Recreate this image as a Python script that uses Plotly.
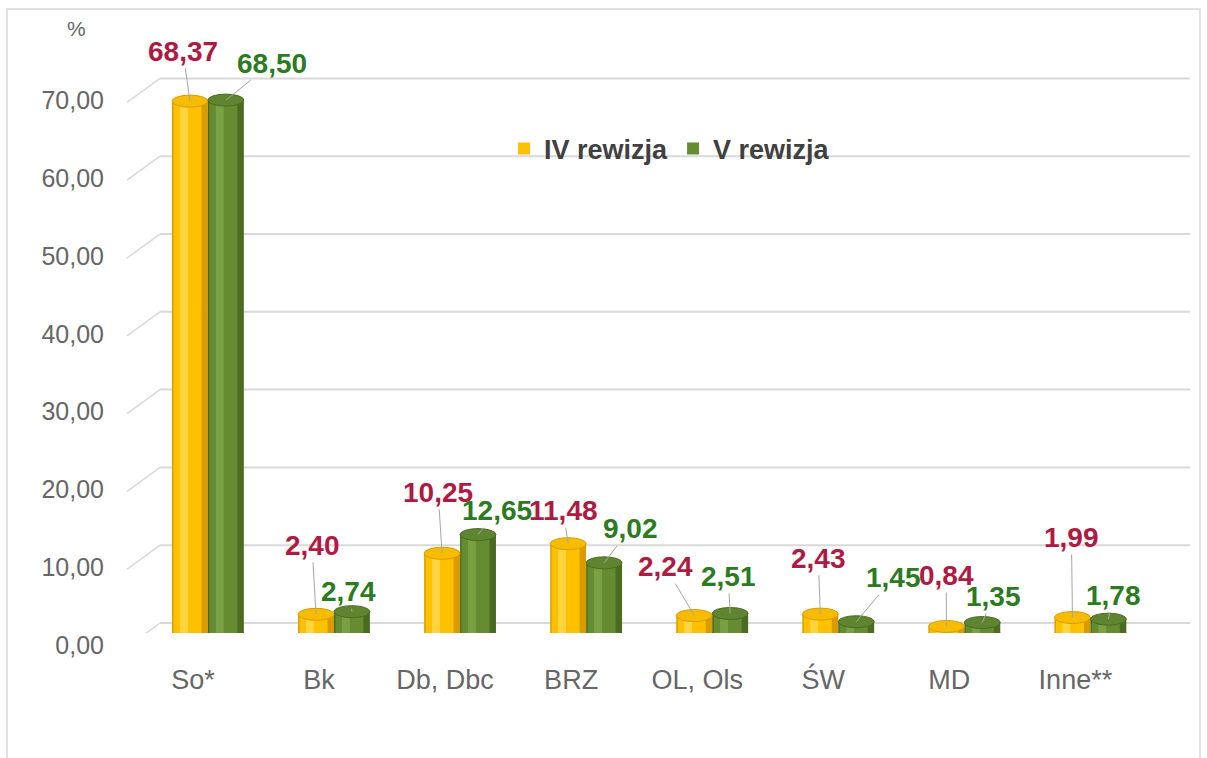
import plotly.graph_objects as go

categories = ["So*", "Bk", "Db, Dbc", "BRZ", "OL, Ols", "ŚW", "MD", "Inne**"]
iv_rewizja = [68.37, 2.40, 10.25, 11.48, 2.24, 2.43, 0.84, 1.99]
v_rewizja = [68.50, 2.74, 12.65, 9.02, 2.51, 1.45, 1.35, 1.78]
y_ticks = [0, 10, 20, 30, 40, 50, 60, 70]

# label offsets (pixels) for data labels with leader lines
iv_ax = [-7, -4, -4, -5, -29, -2, 0, -1]
iv_ay = [-50, -69, -61, -33, -49, -56, -51, -80]
v_ax = [46, -3, 19, 26, -2, 37, 11, 5]
v_ay = [-37, -20, -24, -34, -37, -44, -26, -24]

FONT = "Liberation Sans, Arial, sans-serif"
W = 0.285
idx = list(range(len(categories)))

series = [
    dict(name="IV rewizja", y=iv_rewizja, off=-W, dark="#D99C00", mid="#FFC000",
         hi="#FFD94F", top="#F7BC00", text="#AE1A42", ax=iv_ax, ay=iv_ay),
    dict(name="V rewizja", y=v_rewizja, off=0.0, dark="#4C6B22", mid="#658C30",
         hi="#80A64A", top="#5F8530", text="#2C7A21", ax=v_ax, ay=v_ay),
]

fig = go.Figure()
shapes = []
annotations = []

# back-wall gridlines (drawn slightly above data level, 3D look)
for t in y_ticks:
    shapes.append(dict(type="line", xref="paper", yref="y", x0=0, x1=1,
                       ysizemode="pixel", yanchor=t, y0=10, y1=10,
                       line=dict(color="#D9D9D9", width=2), layer="below"))
    shapes.append(dict(type="line", xref="paper", yref="y", x0=-0.032, x1=0,
                       ysizemode="pixel", yanchor=t, y0=-14, y1=10,
                       line=dict(color="#D9D9D9", width=1.5), layer="below"))

for s in series:
    fig.add_trace(go.Bar(x=idx, y=s["y"], width=W, offset=s["off"],
                         marker=dict(color=s["dark"], line=dict(width=0)),
                         showlegend=False, hoverinfo="skip"))
    fig.add_trace(go.Bar(x=idx, y=s["y"], width=W * 0.78, offset=s["off"] + W * 0.04,
                         marker=dict(color=s["mid"], line=dict(width=0)),
                         name=s["name"], showlegend=True))
    fig.add_trace(go.Bar(x=idx, y=s["y"], width=W * 0.22, offset=s["off"] + W * 0.22,
                         marker=dict(color=s["hi"], line=dict(width=0)),
                         showlegend=False, hoverinfo="skip", opacity=0.8))
    for i, val in enumerate(s["y"]):
        x0 = i + s["off"]
        x1 = x0 + W
        shapes.append(dict(type="circle", xref="x", yref="y", x0=x0, x1=x1,
                           ysizemode="pixel", yanchor=0, y0=-6, y1=6,
                           fillcolor=s["dark"], line=dict(width=0), layer="below"))
        shapes.append(dict(type="circle", xref="x", yref="y", x0=x0, x1=x1,
                           ysizemode="pixel", yanchor=val, y0=-6, y1=6,
                           fillcolor=s["top"], line=dict(width=1, color=s["dark"]),
                           layer="above"))
        annotations.append(dict(
            x=i + s["off"] + W / 2, y=val, xref="x", yref="y",
            text="<b>" + f"{val:.2f}".replace(".", ",") + "</b>",
            showarrow=True, arrowhead=0, arrowwidth=1, arrowcolor="#A6A6A6",
            ax=s["ax"][i], ay=s["ay"][i], standoff=0,
            font=dict(family=FONT, size=28, color=s["text"])))

# outer chart border
shapes.append(dict(type="rect", xref="paper", yref="paper",
                   x0=-0.1485, x1=1.0097, y0=-0.26, y1=1.1223,
                   line=dict(color="#D9D9D9", width=1.5), fillcolor="rgba(0,0,0,0)",
                   layer="below"))

annotations.append(dict(text="%", xref="paper", yref="paper", x=-0.0806, y=1.088,
                        xanchor="center", yanchor="middle",
                        showarrow=False, font=dict(family=FONT, size=21, color="#666666")))

fig.update_layout(
    width=1207, height=758,
    margin=dict(l=160, r=17, t=77, b=125),
    paper_bgcolor="white", plot_bgcolor="white",
    barmode="overlay",
    separators=", ",
    font=dict(family=FONT, color="#666666"),
    shapes=shapes,
    annotations=annotations,
    legend=dict(orientation="h", x=0.334, y=0.8705, xanchor="left", yanchor="middle",
                font=dict(family=FONT, size=27, color="#404040", weight="bold"),
                bgcolor="rgba(0,0,0,0)", itemwidth=30, traceorder="normal"),
    xaxis=dict(range=[-0.38, 7.79], tickvals=idx, ticktext=categories,
               showgrid=False, zeroline=False, showline=False, ticks="",
               automargin=False,
               tickfont=dict(family=FONT, size=27, color="#666666"),
               ticklabelshift=-15, ticklabelstandoff=28),
    yaxis=dict(range=[0, 71.47], tickvals=y_ticks, tickformat=".2f",
               showgrid=False, zeroline=False, showline=False, ticks="",
               automargin=False,
               tickfont=dict(family=FONT, size=25, color="#666666"),
               ticklabelshift=12, ticklabelstandoff=55),
)

fig.write_html("out.html", config={"displayModeBar": False},
               post_script="document.body.style.margin='0';document.body.style.overflow='hidden';")
